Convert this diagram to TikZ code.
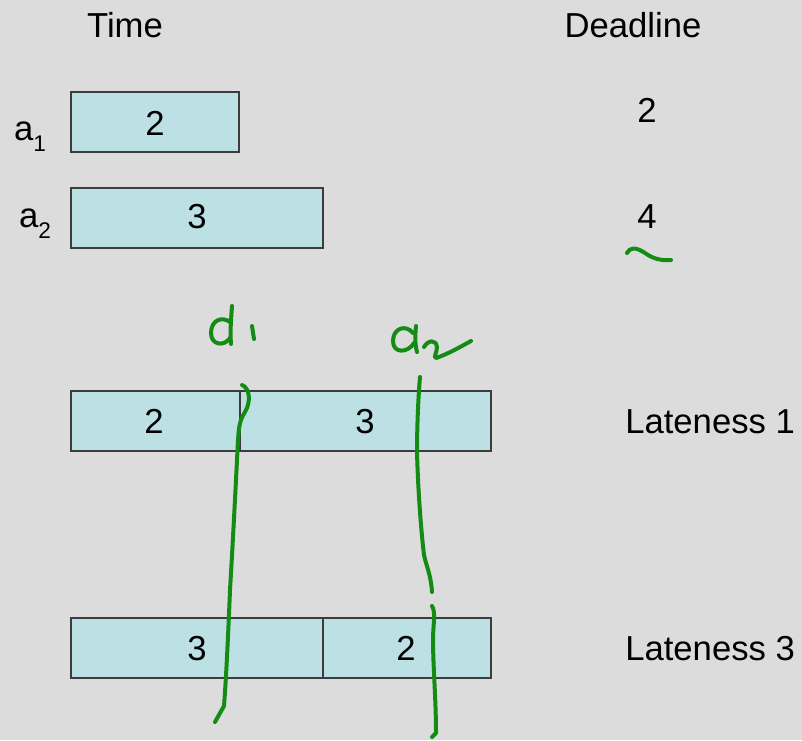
\documentclass[tikz,border=0pt]{standalone}
\usepackage{fontspec}
\setmainfont{Liberation Sans}
\definecolor{bg}{RGB}{220,220,220}
\definecolor{boxfill}{RGB}{188,224,227}
\definecolor{boxline}{RGB}{60,60,60}
\definecolor{pen}{RGB}{20,140,20}
\newcommand{\sbs}[1]{\raisebox{-0.32em}{\fontsize{17}{17}\selectfont #1}}
\begin{document}
\begin{tikzpicture}[x=0.75pt,y=-0.75pt,
  every node/.style={font=\fontsize{26}{30}\selectfont, inner sep=0pt},
  bar/.style={draw=boxline, fill=boxfill, line width=1.3pt},
  lbl/.style={anchor=base},
  ink/.style={draw=pen, line width=3pt, line cap=round, line join=round}]
\fill[bg] (0,0) rectangle (802,740);
\useasboundingbox (0,0) rectangle (802,740);
% headers
\node[lbl] (time) at (125,37) {Time};
\node[lbl] (deadline) at (633,37) {Deadline};
% jobs
\node[lbl] (la1) at (30,140) {a\sbs{1}};
\node[lbl] (la2) at (35,227) {a\sbs{2}};
\draw[bar] (71,92) rectangle (239,152);
\node[lbl] (j1) at (155,135) {2};
\draw[bar] (71,188) rectangle (323,248);
\node[lbl] (j2) at (197,228) {3};
\node[lbl] (d1) at (647,122) {2};
\node[lbl] (d2) at (647,228) {4};
% schedule 1
\draw[bar] (71,391) rectangle (240,451);
\draw[bar] (240,391) rectangle (491,451);
\node[lbl] (s11) at (154,433) {2};
\node[lbl] (s12) at (365,433) {3};
\node[anchor=base west] (late1) at (625,433) {Lateness 1};
% schedule 2
\draw[bar] (71,618) rectangle (323,678);
\draw[bar] (323,618) rectangle (491,678);
\node[lbl] (s21) at (197,660) {3};
\node[lbl] (s22) at (406,660) {2};
\node[anchor=base west] (late3) at (625,660) {Lateness 3};
% handwriting
\draw[ink] (627,253) .. controls (630,247) and (636,247) .. (645,253) .. controls (652,258) and (660,261) .. (671,260);
% a1 handwritten
\draw[ink] (230,322) .. controls (222,316) and (211,320) .. (211,333) .. controls (211,345) and (224,347) .. (230,338);
\draw[ink] (232,306) .. controls (231,320) and (230,332) .. (231,344);
\draw[ink] (252,326) -- (254,339);
% a2 handwritten
\draw[ink] (413,333) .. controls (406,324) and (393,328) .. (393,341) .. controls (393,354) and (408,353) .. (414,343);
\draw[ink] (416,326) .. controls (415,336) and (415,345) .. (417,352);
\draw[ink] (424,347) .. controls (428,340) and (436,339) .. (437,347) .. controls (437,353) and (433,357) .. (436,358) .. controls (448,354) and (460,347) .. (471,341);
% vertical lines
\draw[ink] (242,385) .. controls (250,388) and (251,402) .. (245,412) .. controls (240,420) and (239,425) .. (238,440) .. controls (236,480) and (233,540) .. (230,590) .. controls (228,640) and (226,680) .. (224,706) -- (215,722);
\draw[ink] (420,377) .. controls (418,400) and (417,430) .. (417,452) .. controls (418,490) and (421,530) .. (424,555) .. controls (426,565) and (431,575) .. (432,592);
\draw[ink] (432,606) .. controls (436,612) and (433,625) .. (433,640) .. controls (433,665) and (436,700) .. (436,733) -- (432,737);
\end{tikzpicture}
\end{document}
